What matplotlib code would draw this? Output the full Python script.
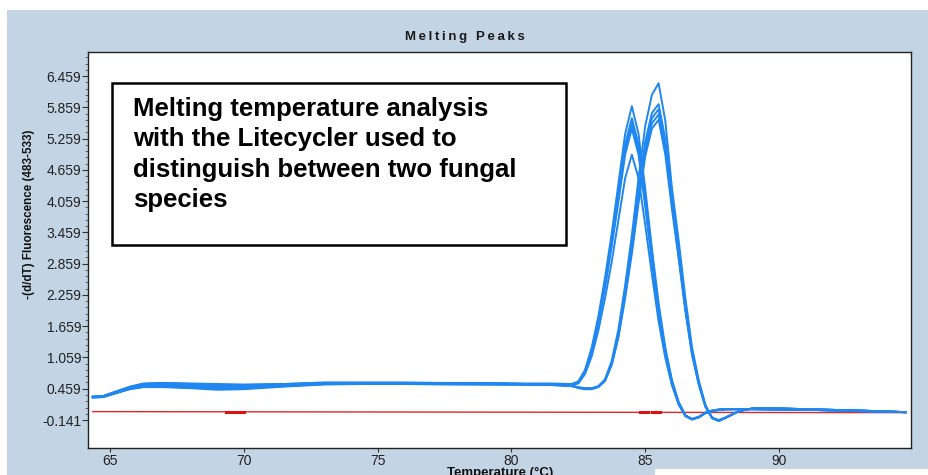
import matplotlib
matplotlib.use("Agg")
import matplotlib.pyplot as plt
from matplotlib.patches import Rectangle
from matplotlib.ticker import FixedLocator

plt.rcParams['font.family'] = ['Liberation Sans', 'DejaVu Sans']

# temperature grid (deg C) shared by all sample curves
temps = [64.36, 64.75, 65.25, 65.75, 66.25, 67.0, 68.0, 69.0, 70.0, 71.5,
         73.0, 74.5, 76.0, 77.5, 79.0, 80.5, 81.5, 82.25,
         82.5, 82.75, 83.0, 83.25, 83.5, 83.75, 84.0, 84.25, 84.5, 84.75,
         85.0, 85.25, 85.5, 85.75, 86.0, 86.25, 86.5, 86.75, 87.0, 87.25,
         87.5, 87.75, 88.0, 88.5, 89.0, 90.0, 91.5, 93.0, 94.73]

# species A (peak ~84.5 C)
a1 = [0.30, 0.31, 0.40, 0.49, 0.55, 0.57, 0.56, 0.55, 0.54, 0.55, 0.58, 0.58, 0.58, 0.57, 0.57, 0.56, 0.56, 0.55,
      0.60, 0.82, 1.25, 1.85, 2.6, 3.45, 4.4, 5.35, 5.88, 5.35, 4.3, 3.15, 2.1, 1.25, 0.62, 0.2, -0.05, -0.13, -0.09, 0.0, 0.04, 0.06, 0.07,
      0.07, 0.07, 0.06, 0.05, 0.03, 0.01]
a2 = [0.29, 0.30, 0.38, 0.47, 0.52, 0.53, 0.51, 0.50, 0.50, 0.53, 0.56, 0.56, 0.56, 0.55, 0.55, 0.55, 0.54, 0.54,
      0.58, 0.80, 1.2, 1.8, 2.5, 3.3, 4.25, 5.15, 5.65, 5.15, 4.15, 3.05, 2.0, 1.2, 0.6, 0.2, -0.05, -0.12, -0.08, 0.0, 0.04, 0.06, 0.07,
      0.07, 0.07, 0.06, 0.05, 0.03, 0.01]
a3 = [0.30, 0.31, 0.39, 0.46, 0.50, 0.50, 0.48, 0.46, 0.47, 0.51, 0.55, 0.55, 0.55, 0.55, 0.54, 0.54, 0.53, 0.53,
      0.57, 0.78, 1.18, 1.75, 2.45, 3.25, 4.15, 5.05, 5.55, 5.05, 4.05, 2.95, 1.95, 1.15, 0.58, 0.18, -0.06, -0.13, -0.09, -0.01, 0.03, 0.05, 0.06,
      0.07, 0.07, 0.06, 0.05, 0.03, 0.01]
a4 = [0.31, 0.32, 0.41, 0.50, 0.56, 0.57, 0.55, 0.53, 0.52, 0.54, 0.57, 0.57, 0.57, 0.56, 0.56, 0.55, 0.55, 0.54,
      0.58, 0.79, 1.17, 1.72, 2.4, 3.2, 4.05, 4.95, 5.45, 4.95, 3.95, 2.9, 1.9, 1.12, 0.56, 0.17, -0.06, -0.12, -0.08, 0.0, 0.04, 0.06, 0.07,
      0.07, 0.07, 0.06, 0.05, 0.03, 0.01]
a5 = [0.30, 0.31, 0.38, 0.45, 0.49, 0.49, 0.47, 0.44, 0.45, 0.50, 0.54, 0.55, 0.55, 0.54, 0.54, 0.54, 0.53, 0.53,
      0.56, 0.74, 1.08, 1.58, 2.2, 2.9, 3.7, 4.5, 4.95, 4.5, 3.6, 2.65, 1.75, 1.05, 0.52, 0.15, -0.07, -0.13, -0.09, -0.01, 0.03, 0.05, 0.06,
      0.06, 0.06, 0.06, 0.05, 0.03, 0.01]

# species B (peak ~85.4 C)
b1 = [0.30, 0.31, 0.40, 0.48, 0.54, 0.55, 0.54, 0.53, 0.53, 0.55, 0.57, 0.57, 0.57, 0.56, 0.56, 0.55, 0.54, 0.52,
      0.48, 0.46, 0.46, 0.50, 0.64, 1.0, 1.6, 2.45, 3.4, 4.5, 5.5, 6.1, 6.32, 5.6, 4.3, 3.3, 2.2, 1.25, 0.62, 0.15, -0.1, -0.16, -0.1,
      0.03, 0.08, 0.08, 0.06, 0.04, 0.01]
b2 = [0.29, 0.30, 0.38, 0.46, 0.51, 0.52, 0.50, 0.49, 0.49, 0.52, 0.55, 0.56, 0.56, 0.55, 0.55, 0.54, 0.53, 0.51,
      0.48, 0.46, 0.46, 0.50, 0.63, 0.96, 1.52, 2.35, 3.25, 4.25, 5.2, 5.75, 5.92, 5.25, 4.1, 3.1, 2.05, 1.18, 0.58, 0.13, -0.1, -0.15, -0.1,
      0.03, 0.08, 0.08, 0.06, 0.04, 0.01]
b3 = [0.30, 0.31, 0.39, 0.47, 0.52, 0.53, 0.52, 0.51, 0.51, 0.53, 0.56, 0.56, 0.56, 0.56, 0.55, 0.55, 0.54, 0.52,
      0.49, 0.47, 0.47, 0.51, 0.63, 0.95, 1.5, 2.3, 3.2, 4.2, 5.1, 5.65, 5.82, 5.15, 4.05, 3.05, 2.0, 1.15, 0.56, 0.12, -0.11, -0.16, -0.1,
      0.03, 0.08, 0.08, 0.06, 0.04, 0.01]
b4 = [0.31, 0.32, 0.41, 0.49, 0.55, 0.56, 0.54, 0.52, 0.51, 0.54, 0.56, 0.57, 0.57, 0.56, 0.56, 0.55, 0.54, 0.52,
      0.47, 0.45, 0.45, 0.49, 0.61, 0.93, 1.47, 2.25, 3.12, 4.1, 5.0, 5.55, 5.72, 5.05, 4.0, 3.0, 1.98, 1.13, 0.55, 0.12, -0.1, -0.15, -0.1,
      0.03, 0.08, 0.08, 0.06, 0.04, 0.01]
b5 = [0.30, 0.31, 0.38, 0.46, 0.50, 0.50, 0.48, 0.46, 0.47, 0.51, 0.55, 0.55, 0.55, 0.55, 0.55, 0.54, 0.53, 0.51,
      0.48, 0.46, 0.46, 0.50, 0.62, 0.92, 1.45, 2.2, 3.05, 4.02, 4.92, 5.45, 5.62, 4.95, 3.9, 2.95, 1.95, 1.1, 0.54, 0.11, -0.1, -0.14, -0.09,
      0.03, 0.08, 0.08, 0.06, 0.04, 0.01]

species_a = [a1, a2, a3, a4, a5]
species_b = [b1, b2, b3, b4, b5]

# negative control (red)
ctrl_temps = [64.36, 94.73]
ctrl_vals = [0.02, 0.0]
ctrl_marks = [(69.35, 70.0), (84.8, 85.1), (85.25, 85.55)]

yticks = [-0.141, 0.459, 1.059, 1.659, 2.259, 2.859, 3.459, 4.059, 4.659, 5.259, 5.859, 6.459]
xticks = [65, 70, 75, 80, 85, 90]

W, H = 929, 475
fig = plt.figure(figsize=(W / 100, H / 100), dpi=100, facecolor='white')

# light blue instrument panel, behind the axes
fig.patches.append(Rectangle((7 / W, 0), 1 - 7 / W, 1 - 10 / H, transform=fig.transFigure,
                             facecolor='#c3d4e4', edgecolor='none', zorder=-5))

ax = fig.add_axes([88 / W, 1 - 448 / H, (911 - 88) / W, (448 - 52) / H])
ax.set_facecolor('white')

blue = '#1f87ef'
for c in species_a + species_b:
    ax.plot(temps, c, color=blue, lw=1.4, zorder=3)

ax.plot(ctrl_temps, ctrl_vals, color='#e02828', lw=1.0, zorder=2)
for t0, t1 in ctrl_marks:
    ax.plot([t0, t1], [0.015, 0.015], color='#e01010', lw=2.2, zorder=2)

ax.set_xlim(64.18, 94.93)
ax.set_ylim(-0.678, 6.92)
ax.yaxis.set_major_locator(FixedLocator(yticks))
ax.set_yticklabels([f'{v:.3f}' for v in yticks])
ax.yaxis.set_minor_locator(FixedLocator([v + 0.12 * k for v in yticks for k in range(1, 5)]))
ax.set_xticks(xticks)
ax.tick_params(axis='both', which='major', labelsize=10, colors='#333333', labelcolor='#222222', width=0.8)
ax.tick_params(axis='y', which='major', length=4, pad=1)
ax.tick_params(axis='y', which='minor', length=2, width=0.6, colors='#555555')
ax.tick_params(axis='x', which='major', length=3, pad=1.5)
for s in ax.spines.values():
    s.set_color('#222222')
    s.set_linewidth(1.0)

fig.text(465 / W, 1 - 37 / H, '\u2009'.join('Melting Peaks'), ha='center', va='center',
         fontsize=9.5, fontweight='bold', color='#1a1a1a')
fig.text(29 / W, 1 - 214 / H, '-(d/dT) Fluorescence (483-533)', rotation=90, ha='center', va='center',
         fontsize=8.4, fontweight='bold', color='#111111')
fig.text(500 / W, 1 - 467 / H, 'Temperature (°C)', ha='center', va='top',
         fontsize=9.5, fontweight='bold', color='#111111')

# annotation box
fig.patches.append(Rectangle((112 / W, 1 - 245 / H), (566 - 112) / W, (245 - 83) / H,
                             transform=fig.transFigure, facecolor='white', edgecolor='black',
                             linewidth=1.8, zorder=5))
fig.text(133 / W, 1 - 97 / H,
         'Melting temperature analysis\nwith the Litecycler used to\ndistinguish between two fungal\nspecies',
         ha='left', va='top', fontsize=18.5, fontweight='bold', linespacing=1.34, zorder=6)

# white patch at bottom right
fig.patches.append(Rectangle((655 / W, 0), 1 - 655 / W, 6 / H, transform=fig.transFigure,
                             facecolor='white', edgecolor='none', zorder=7))

fig.savefig('out.png', dpi=100)
